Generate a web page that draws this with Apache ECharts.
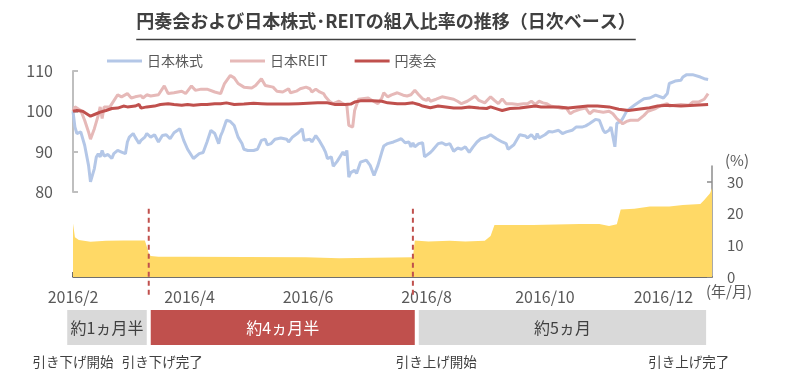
<!DOCTYPE html>
<html><head><meta charset="utf-8">
<script src="https://cdn.jsdelivr.net/npm/echarts@6/dist/echarts.min.js"></script>
<style>html,body{margin:0;padding:0;background:#fff}#c{width:793px;height:380px}</style>
</head><body><div id="c"></div>
<script>
const FONT = '"Noto Sans CJK JP", "Noto Sans", sans-serif';
const titleText = '円奏会および日本株式･REITの組入比率の推移（日次ベース）';
const seriesNames = ['日本株式', '日本REIT', '円奏会'];
const ratioName = '組入比率';
const xMin = '2016-02-01', xMax = '2016-12-26';
const xTickDates = ['2016-02-01','2016-04-01','2016-06-01','2016-08-01','2016-10-01','2016-12-01'];
const rightTicks = [0, 10, 20, 30];

const stockData = [['2016-02-01',100],['2016-02-02',96.1],['2016-02-03',94.5],['2016-02-05',94.9],['2016-02-06',95.0],['2016-02-07',91.6],['2016-02-09',86.6],['2016-02-10',82.5],['2016-02-12',85.8],['2016-02-13',88.7],['2016-02-14',89.5],['2016-02-15',88.7],['2016-02-16',90.3],['2016-02-17',88.9],['2016-02-19',89.3],['2016-02-20',89.1],['2016-02-21',88.3],['2016-02-22',89.5],['2016-02-24',90.3],['2016-02-26',89.9],['2016-02-28',89.5],['2016-02-29',92.4],['2016-03-01',93.6],['2016-03-03',94.5],['2016-03-04',93.6],['2016-03-06',92.0],['2016-03-07',92.8],['2016-03-09',93.6],['2016-03-10',94.5],['2016-03-12',93.6],['2016-03-14',94.2],['2016-03-16',92.4],['2016-03-18',94.0],['2016-03-20',94.2],['2016-03-22',93.2],['2016-03-24',94.7],['2016-03-27',95.7],['2016-03-28',95.3],['2016-03-29',92.8],['2016-03-31',90.6],['2016-04-01',90.6],['2016-04-03',88.3],['2016-04-04',88.3],['2016-04-06',89.5],['2016-04-08',89.8],['2016-04-09',89.5],['2016-04-10',92.4],['2016-04-12',95.3],['2016-04-14',94.5],['2016-04-16',92.0],['2016-04-17',93.9],['2016-04-18',95.0],['2016-04-20',97.8],['2016-04-22',97.5],['2016-04-24',96.5],['2016-04-26',93.6],['2016-04-28',92.0],['2016-04-29',90.6],['2016-05-01',90.3],['2016-05-04',90.3],['2016-05-06',90.6],['2016-05-08',92.8],['2016-05-10',93.1],['2016-05-11',91.7],['2016-05-13',92.0],['2016-05-15',93.1],['2016-05-18',93.4],['2016-05-21',93.1],['2016-05-22',92.4],['2016-05-24',93.6],['2016-05-27',94.7],['2016-05-29',95.7],['2016-05-30',92.8],['2016-06-02',93.1],['2016-06-03',92.4],['2016-06-05',94.0],['2016-06-07',92.6],['2016-06-09',90.9],['2016-06-10',89.9],['2016-06-11',88.3],['2016-06-13',88.7],['2016-06-14',86.4],['2016-06-16',87.6],['2016-06-19',89.9],['2016-06-20',89.1],['2016-06-21',90.3],['2016-06-22',83.7],['2016-06-23',84.8],['2016-06-25',85.4],['2016-06-26',84.6],['2016-06-28',87.4],['2016-06-29',87.0],['2016-07-01',87.9],['2016-07-03',86.6],['2016-07-05',84.1],['2016-07-07',86.6],['2016-07-09',89.9],['2016-07-10',91.4],['2016-07-12',92.0],['2016-07-15',92.4],['2016-07-17',92.8],['2016-07-19',93.2],['2016-07-21',92.2],['2016-07-23',92.4],['2016-07-24',91.2],['2016-07-25',92.2],['2016-07-26',91.2],['2016-07-28',92.0],['2016-07-30',92.2],['2016-07-31',88.7],['2016-08-03',89.8],['2016-08-04',90.3],['2016-08-07',92.0],['2016-08-09',92.2],['2016-08-11',91.7],['2016-08-13',92.0],['2016-08-15',90.1],['2016-08-17',90.9],['2016-08-19',90.6],['2016-08-21',91.2],['2016-08-23',89.8],['2016-08-25',91.2],['2016-08-27',92.4],['2016-08-29',93.2],['2016-09-01',93.6],['2016-09-03',94.2],['2016-09-06',93.2],['2016-09-09',92.4],['2016-09-11',92.0],['2016-09-12',90.6],['2016-09-15',91.7],['2016-09-16',92.0],['2016-09-18',94.2],['2016-09-21',93.9],['2016-09-22',93.4],['2016-09-24',94.2],['2016-09-26',93.1],['2016-09-27',94.5],['2016-09-28',93.4],['2016-10-01',94.2],['2016-10-03',95.0],['2016-10-05',94.9],['2016-10-08',95.3],['2016-10-10',94.5],['2016-10-12',94.9],['2016-10-15',95.3],['2016-10-17',96.1],['2016-10-20',96.1],['2016-10-22',96.4],['2016-10-24',97.0],['2016-10-27',98.0],['2016-10-29',97.8],['2016-10-31',95.3],['2016-11-01',94.7],['2016-11-03',95.3],['2016-11-04',96.1],['2016-11-06',91.2],['2016-11-07',97.0],['2016-11-09',97.5],['2016-11-10',98.2],['2016-11-12',100.0],['2016-11-14',100.8],['2016-11-16',101.5],['2016-11-19',102.5],['2016-11-21',103.1],['2016-11-24',103.3],['2016-11-27',104.0],['2016-11-28',103.6],['2016-12-01',103.3],['2016-12-03',104.4],['2016-12-04',106.9],['2016-12-07',107.5],['2016-12-10',107.7],['2016-12-11',108.5],['2016-12-13',109.1],['2016-12-16',109.1],['2016-12-17',108.9],['2016-12-20',108.5],['2016-12-22',108.1],['2016-12-24',107.9]];

const reitData = [['2016-02-01',100],['2016-02-02',101.1],['2016-02-03',100.7],['2016-02-05',100.2],['2016-02-07',97.8],['2016-02-09',94.9],['2016-02-10',93.1],['2016-02-12',95.7],['2016-02-14',99.0],['2016-02-15',101.1],['2016-02-16',98.2],['2016-02-17',101.1],['2016-02-20',101.1],['2016-02-21',101.5],['2016-02-24',104.1],['2016-02-26',103.6],['2016-02-27',103.3],['2016-02-29',104.4],['2016-03-02',103.3],['2016-03-04',103.6],['2016-03-05',103.3],['2016-03-07',103.9],['2016-03-08',103.3],['2016-03-10',104.1],['2016-03-12',103.8],['2016-03-16',104.1],['2016-03-19',106.3],['2016-03-21',104.4],['2016-03-24',104.6],['2016-03-28',105.0],['2016-03-30',104.4],['2016-04-02',106.3],['2016-04-04',105.2],['2016-04-07',105.5],['2016-04-10',105.5],['2016-04-14',104.8],['2016-04-17',104.4],['2016-04-19',106.9],['2016-04-22',108.9],['2016-04-23',109.3],['2016-04-24',108.3],['2016-04-26',106.9],['2016-04-29',106.0],['2016-05-03',105.8],['2016-05-05',106.4],['2016-05-08',108.1],['2016-05-10',106.4],['2016-05-11',106.0],['2016-05-14',106.0],['2016-05-16',105.0],['2016-05-19',104.8],['2016-05-22',105.6],['2016-05-23',104.6],['2016-05-26',105.0],['2016-05-28',105.6],['2016-05-31',106.0],['2016-06-02',105.6],['2016-06-03',104.8],['2016-06-05',105.5],['2016-06-07',104.8],['2016-06-09',104.4],['2016-06-10',103.6],['2016-06-12',102.5],['2016-06-14',101.9],['2016-06-15',101.5],['2016-06-17',102.5],['2016-06-19',101.9],['2016-06-21',101.5],['2016-06-22',96.5],['2016-06-23',96.1],['2016-06-24',96.1],['2016-06-25',100.2],['2016-06-27',103.0],['2016-06-28',103.3],['2016-07-02',103.3],['2016-07-04',102.7],['2016-07-05',103.0],['2016-07-07',101.9],['2016-07-09',103.3],['2016-07-10',104.6],['2016-07-12',103.6],['2016-07-14',104.1],['2016-07-17',104.6],['2016-07-20',104.0],['2016-07-22',103.8],['2016-07-24',104.1],['2016-07-26',105.2],['2016-07-28',104.1],['2016-07-30',103.1],['2016-08-01',102.7],['2016-08-02',103.3],['2016-08-03',102.5],['2016-08-06',103.0],['2016-08-09',103.6],['2016-08-12',103.3],['2016-08-15',103.0],['2016-08-17',102.5],['2016-08-19',101.9],['2016-08-22',102.5],['2016-08-24',103.1],['2016-08-26',103.8],['2016-08-28',102.7],['2016-08-31',102.1],['2016-09-03',103.6],['2016-09-05',102.7],['2016-09-07',101.9],['2016-09-09',103.1],['2016-09-11',101.9],['2016-09-14',101.9],['2016-09-17',101.7],['2016-09-20',101.9],['2016-09-22',101.9],['2016-09-24',102.5],['2016-09-26',101.7],['2016-09-28',102.5],['2016-09-30',102.1],['2016-10-02',101.9],['2016-10-04',101.3],['2016-10-06',101.1],['2016-10-10',100.7],['2016-10-12',100.8],['2016-10-14',99.4],['2016-10-16',100.0],['2016-10-19',100.5],['2016-10-22',100.8],['2016-10-24',99.4],['2016-10-26',100.2],['2016-10-28',100.0],['2016-10-31',99.8],['2016-11-03',100.0],['2016-11-05',99.4],['2016-11-07',98.2],['2016-11-09',97.4],['2016-11-10',96.9],['2016-11-12',97.5],['2016-11-14',97.8],['2016-11-15',97.5],['2016-11-18',97.8],['2016-11-21',99.0],['2016-11-23',100.0],['2016-11-27',100.7],['2016-11-30',101.5],['2016-12-03',101.9],['2016-12-04',101.3],['2016-12-07',101.5],['2016-12-10',101.7],['2016-12-14',101.5],['2016-12-16',102.3],['2016-12-19',102.3],['2016-12-22',103.0],['2016-12-24',104.4]];

const ensoData = [['2016-02-01',100],['2016-02-03',100.2],['2016-02-06',100.0],['2016-02-10',98.8],['2016-02-13',99.4],['2016-02-15',99.8],['2016-02-18',100.2],['2016-02-21',100.7],['2016-02-24',100.8],['2016-02-27',101.3],['2016-02-29',101.1],['2016-03-04',101.3],['2016-03-06',101.7],['2016-03-07',100.8],['2016-03-10',101.1],['2016-03-14',101.3],['2016-03-17',101.7],['2016-03-21',101.9],['2016-03-24',101.7],['2016-03-28',101.5],['2016-03-31',101.7],['2016-04-03',101.5],['2016-04-07',101.7],['2016-04-10',101.7],['2016-04-14',101.9],['2016-04-17',101.9],['2016-04-20',102.1],['2016-04-24',101.7],['2016-04-29',101.8],['2016-05-04',102.0],['2016-05-08',101.9],['2016-05-11',101.8],['2016-05-16',101.8],['2016-05-22',101.8],['2016-05-27',101.9],['2016-06-01',102.0],['2016-06-06',102.1],['2016-06-11',102.1],['2016-06-15',101.7],['2016-06-20',101.7],['2016-06-23',101.8],['2016-06-25',102.3],['2016-06-28',102.6],['2016-07-04',102.6],['2016-07-09',102.5],['2016-07-12',102.1],['2016-07-17',101.9],['2016-07-21',101.9],['2016-07-25',102.1],['2016-07-28',101.7],['2016-07-30',101.3],['2016-08-03',100.9],['2016-08-07',101.3],['2016-08-11',101.1],['2016-08-15',100.8],['2016-08-19',100.8],['2016-08-23',101.1],['2016-08-28',100.8],['2016-09-01',100.7],['2016-09-03',101.1],['2016-09-07',100.5],['2016-09-09',100.2],['2016-09-13',100.7],['2016-09-18',100.8],['2016-09-22',101.1],['2016-09-26',101.3],['2016-09-29',101.1],['2016-10-03',101.1],['2016-10-08',101.1],['2016-10-13',100.8],['2016-10-18',101.1],['2016-10-23',101.3],['2016-10-28',101.3],['2016-11-03',101.1],['2016-11-08',100.5],['2016-11-13',100.2],['2016-11-18',100.5],['2016-11-23',100.8],['2016-11-28',101.3],['2016-12-03',101.5],['2016-12-10',101.3],['2016-12-17',101.5],['2016-12-24',101.7]];

const ratioData = [['2016-02-01',16.9],['2016-02-02',12.5],['2016-02-04',11.7],['2016-02-10',11.1],['2016-02-18',11.4],['2016-02-27',11.5],['2016-03-09',11.5],['2016-03-10',9.6],['2016-03-11',7.5],['2016-03-12',6.6],['2016-03-16',6.4],['2016-03-30',6.4],['2016-03-31',6.2],['2016-05-31',6.2],['2016-06-17',5.9],['2016-07-05',6.1],['2016-07-25',6.2],['2016-07-26',11.5],['2016-08-02',11.2],['2016-08-13',11.4],['2016-08-21',11.2],['2016-08-31',11.4],['2016-09-03',12.9],['2016-09-05',16.4],['2016-09-25',16.4],['2016-10-19',16.7],['2016-10-29',16.7],['2016-11-03',16.1],['2016-11-07',16.6],['2016-11-09',21.3],['2016-11-16',21.5],['2016-11-24',22.2],['2016-12-04',22.2],['2016-12-11',22.7],['2016-12-20',23.0],['2016-12-22',24.3],['2016-12-25',26.4],['2016-12-26',28.0]];

// rate-change events (dashed lines)
const eventDates = ['2016-03-11', '2016-07-25'];
// periods shown as boxes under the axis
const periods = [
  {label: '約1ヵ月半', start: '2016-01-28', end: '2016-03-11', fill: '#D9D9D9', text: '#404040'},
  {label: '約4ヵ月半', start: '2016-03-11', end: '2016-07-27', fill: '#C0504D', text: '#FFFFFF'},
  {label: '約5ヵ月',   start: '2016-07-27', end: '2016-12-24', fill: '#D9D9D9', text: '#404040'}
];
const notes = [
  {label: '引き下げ開始', at: '2016-02-01'},
  {label: '引き下げ完了', at: '2016-03-18'},
  {label: '引き上げ開始', at: '2016-08-06'},
  {label: '引き上げ完了', at: '2016-12-14'}
];

function ts(s) { const p = s.split('-').map(Number); return new Date(p[0], p[1] - 1, p[2]).getTime(); }
const toXY = arr => arr.map(d => [ts(d[0]), d[1]]);
const tickTs = xTickDates.map(ts);

const chart = echarts.init(document.getElementById('c'));
const option = {
  animation: false,
  textStyle: {fontFamily: FONT},
  legend: {
    data: seriesNames, left: 102, top: 49, icon: 'rect', itemWidth: 35, itemHeight: 3, itemGap: 27,
    textStyle: {fontSize: 14, color: '#595959', fontFamily: FONT}
  },
  grid: [
    {left: 73, right: 81, top: 71, height: 121},
    {left: 73, right: 81, top: 166, height: 111}
  ],
  xAxis: [
    {type: 'value', gridIndex: 0, min: ts(xMin), max: ts(xMax), show: false, splitLine: {show: false}},
    {type: 'value', gridIndex: 1, min: ts(xMin), max: ts(xMax),
     axisLine: {lineStyle: {color: '#404040', width: 1.5}},
     axisTick: {show: true, inside: true, length: 5, customValues: tickTs, lineStyle: {color: '#404040', width: 1.5}},
     axisLabel: {customValues: tickTs, fontSize: 16, color: '#595959', margin: 12, fontFamily: FONT,
       formatter: v => { const d = new Date(v); return d.getFullYear() + '/' + (d.getMonth() + 1); }},
     splitLine: {show: false}}
  ],
  yAxis: [
    {type: 'value', gridIndex: 0, min: 80, max: 110, interval: 10, position: 'left',
     axisLine: {show: true, lineStyle: {color: '#BFBFBF', width: 2}},
     axisTick: {show: true, inside: true, length: 5, lineStyle: {color: '#BFBFBF', width: 2}},
     axisLabel: {fontSize: 16, color: '#595959', margin: 20, fontFamily: FONT},
     splitLine: {show: false}},
    {type: 'value', gridIndex: 1, min: 0, max: 35, position: 'right',
     axisLine: {show: true, lineStyle: {color: '#8C8C8C', width: 1.5}},
     axisTick: {show: true, inside: true, length: 5, customValues: rightTicks, lineStyle: {color: '#8C8C8C', width: 1.5}},
     axisLabel: {customValues: rightTicks, fontSize: 15, color: '#595959', margin: 15, fontFamily: FONT},
     splitLine: {show: false}}
  ],
  series: [
    {name: ratioName, type: 'line', xAxisIndex: 1, yAxisIndex: 1, data: toXY(ratioData), symbol: 'none',
     lineStyle: {width: 0}, areaStyle: {color: '#FFD966', opacity: 1}, color: '#FFD966', z: 1},
    {name: seriesNames[0], type: 'line', xAxisIndex: 0, yAxisIndex: 0, data: toXY(stockData), symbol: 'none',
     color: '#B4C7E7', lineStyle: {width: 3, color: '#B4C7E7'}, z: 3},
    {name: seriesNames[1], type: 'line', xAxisIndex: 0, yAxisIndex: 0, data: toXY(reitData), symbol: 'none',
     color: '#E6B9B8', lineStyle: {width: 3, color: '#E6B9B8'}, z: 3},
    {name: seriesNames[2], type: 'line', xAxisIndex: 0, yAxisIndex: 0, data: toXY(ensoData), symbol: 'none',
     color: '#C0504D', lineStyle: {width: 3, color: '#C0504D'}, z: 4}
  ]
};
chart.setOption(option);

const px = d => chart.convertToPixel({xAxisIndex: 1}, ts(d));
const py = v => chart.convertToPixel({yAxisIndex: 1}, v);

const cvs = document.createElement('canvas').getContext('2d');
cvs.font = 'bold 18px ' + FONT;
const tw = cvs.measureText(titleText).width;
const tcx = 386;

const g = [];
g.push({type: 'text', x: tcx, y: 21, style: {text: titleText, fill: '#404040', font: 'bold 18px ' + FONT, textAlign: 'center', textVerticalAlign: 'middle'}});
g.push({type: 'line', shape: {x1: tcx - tw / 2, y1: 39.5, x2: tcx + tw / 2, y2: 39.5}, style: {stroke: '#404040', lineWidth: 1.5}});

eventDates.forEach(d => {
  const x = px(d);
  g.push({type: 'line', z: 20, shape: {x1: x, y1: py(21.5), x2: x, y2: 298}, style: {stroke: '#C0504D', lineWidth: 2, lineDash: [5, 4]}});
});
periods.forEach(p => {
  const x1 = px(p.start) + 2, x2 = px(p.end) - 2;
  g.push({type: 'rect', shape: {x: x1, y: 310, width: x2 - x1, height: 35}, style: {fill: p.fill}});
  g.push({type: 'text', x: (x1 + x2) / 2, y: 328, style: {text: p.label, fill: p.text, font: '16px ' + FONT, textAlign: 'center', textVerticalAlign: 'middle'}});
});
notes.forEach(n => {
  g.push({type: 'text', x: px(n.at), y: 362, style: {text: n.label, fill: '#404040', font: '13.5px ' + FONT, textAlign: 'center', textVerticalAlign: 'middle'}});
});
g.push({type: 'text', x: 737, y: 160, style: {text: '(%)', fill: '#595959', font: '15px ' + FONT, textAlign: 'center', textVerticalAlign: 'middle'}});
g.push({type: 'text', x: 729, y: 291, style: {text: '(年/月)', fill: '#595959', font: '15px ' + FONT, textAlign: 'center', textVerticalAlign: 'middle'}});

chart.setOption({graphic: g});
</script></body></html>
